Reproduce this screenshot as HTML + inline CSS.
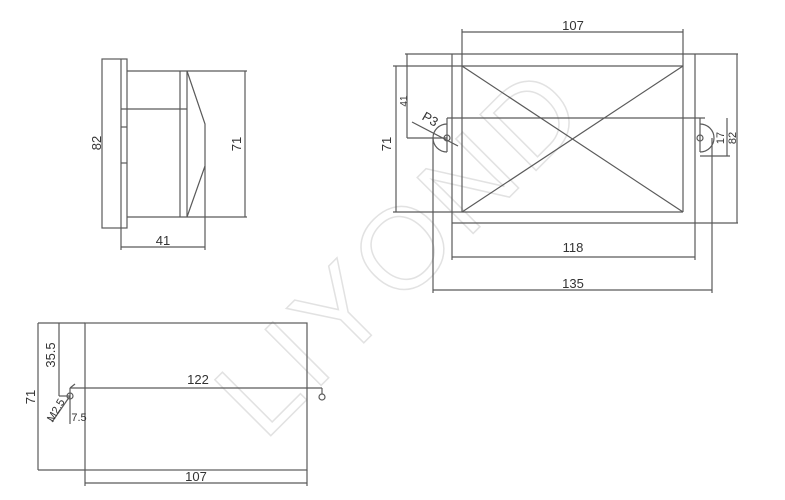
<!DOCTYPE html>
<html><head><meta charset="utf-8"><style>html,body{margin:0;padding:0;background:#fff;width:785px;height:500px;overflow:hidden}svg{display:block}</style></head><body>
<svg width="785" height="500" viewBox="0 0 785 500" xmlns="http://www.w3.org/2000/svg" font-family="'Liberation Sans',sans-serif" fill="none" stroke="#5a5a5a" stroke-width="1.2" overflow="hidden">
<text x="400" y="290" transform="rotate(-45 400 250)" font-size="115" text-anchor="middle" stroke="#e2e2e2" stroke-width="1.5" fill="none" letter-spacing="6">LIYOND</text>
<!-- side view -->
<rect x="102" y="59" width="25" height="169"/>
<line x1="121" y1="59" x2="121" y2="228"/>
<line x1="121" y1="127" x2="127" y2="127"/><line x1="121" y1="163" x2="127" y2="163"/>
<line x1="127" y1="71" x2="247" y2="71"/><line x1="127" y1="217" x2="247" y2="217"/>
<line x1="180" y1="71" x2="180" y2="217"/><line x1="187" y1="71" x2="187" y2="217"/>
<line x1="121" y1="109" x2="187" y2="109"/>
<polyline points="187,71 205,124 205,166 187,217"/>
<line x1="245" y1="71" x2="245" y2="217"/>
<line x1="121" y1="228" x2="121" y2="250"/><line x1="205" y1="166" x2="205" y2="250"/>
<line x1="121" y1="247" x2="205" y2="247"/>
<!-- front view -->
<line x1="462" y1="29" x2="462" y2="66"/><line x1="683" y1="29" x2="683" y2="66"/>
<line x1="462" y1="32" x2="683" y2="32"/>
<line x1="405" y1="54" x2="738" y2="54"/><line x1="452" y1="223" x2="738" y2="223"/>
<line x1="452" y1="54" x2="452" y2="260"/><line x1="695" y1="54" x2="695" y2="260"/>
<line x1="393" y1="66" x2="683" y2="66"/><line x1="393" y1="212" x2="683" y2="212"/>
<line x1="462" y1="66" x2="462" y2="212"/><line x1="683" y1="66" x2="683" y2="212"/>
<line x1="462" y1="66" x2="683" y2="212"/><line x1="683" y1="66" x2="462" y2="212"/>
<line x1="396" y1="66" x2="396" y2="212"/>
<line x1="407" y1="54" x2="407" y2="138"/><line x1="407" y1="138" x2="447" y2="138"/>
<line x1="447" y1="118" x2="705" y2="118"/>
<line x1="447" y1="118" x2="447" y2="152"/><line x1="700" y1="118" x2="700" y2="152"/>
<path d="M447 124 A14 14 0 0 0 447 152"/><path d="M700 124 A14 14 0 0 1 700 152"/>
<circle cx="447" cy="138" r="3"/><circle cx="700" cy="138" r="3"/>
<line x1="433" y1="138" x2="433" y2="293"/><line x1="712" y1="138" x2="712" y2="293"/>
<line x1="452" y1="257" x2="695" y2="257"/>
<line x1="433" y1="290" x2="712" y2="290"/>
<line x1="737" y1="54" x2="737" y2="223"/>
<line x1="727" y1="118" x2="727" y2="156"/><line x1="700" y1="156" x2="730" y2="156"/>
<line x1="412" y1="122" x2="458" y2="146"/>
<!-- bottom view -->
<rect x="85" y="323" width="222" height="147"/>
<line x1="38" y1="323" x2="85" y2="323"/><line x1="38" y1="470" x2="85" y2="470"/>
<line x1="38" y1="323" x2="38" y2="470"/>
<line x1="59" y1="323" x2="59" y2="396"/><line x1="59" y1="396" x2="70" y2="396"/>
<line x1="70" y1="388" x2="322" y2="388"/><line x1="322" y1="388" x2="322" y2="394"/>
<line x1="70" y1="388" x2="70" y2="424"/><line x1="70" y1="388" x2="75" y2="384"/>
<circle cx="70" cy="396" r="3"/><circle cx="322" cy="397" r="3"/>
<line x1="52" y1="422" x2="70" y2="396"/>
<line x1="85" y1="470" x2="85" y2="486"/><line x1="307" y1="470" x2="307" y2="486"/>
<line x1="85" y1="483" x2="307" y2="483"/>
<g fill="#333" stroke="none" font-size="13">
<text x="163" y="245" text-anchor="middle">41</text>
<text transform="translate(101,143) rotate(-90)" text-anchor="middle">82</text>
<text transform="translate(241,144) rotate(-90)" text-anchor="middle">71</text>
<text x="573" y="30" text-anchor="middle">107</text>
<text x="573" y="252" text-anchor="middle">118</text>
<text x="573" y="288" text-anchor="middle">135</text>
<text transform="translate(391,144) rotate(-90)" text-anchor="middle">71</text>
<text transform="translate(407,101) rotate(-90)" text-anchor="middle" font-size="10">41</text>
<text transform="translate(736,138) rotate(-90)" text-anchor="middle" font-size="11">82</text>
<text transform="translate(724,138) rotate(-90)" text-anchor="middle" font-size="11">17</text>
<text transform="translate(428,123) rotate(30)" text-anchor="middle">P3</text>
<text transform="translate(35,397) rotate(-90)" text-anchor="middle">71</text>
<text transform="translate(55,355) rotate(-90)" text-anchor="middle">35.5</text>
<text x="198" y="384" text-anchor="middle">122</text>
<text x="196" y="481" text-anchor="middle">107</text>
<text transform="translate(59,412) rotate(-60)" text-anchor="middle" font-size="11">M2.5</text>
<text x="79" y="421" text-anchor="middle" font-size="11">7.5</text>
</g>
</svg>
</body></html>
